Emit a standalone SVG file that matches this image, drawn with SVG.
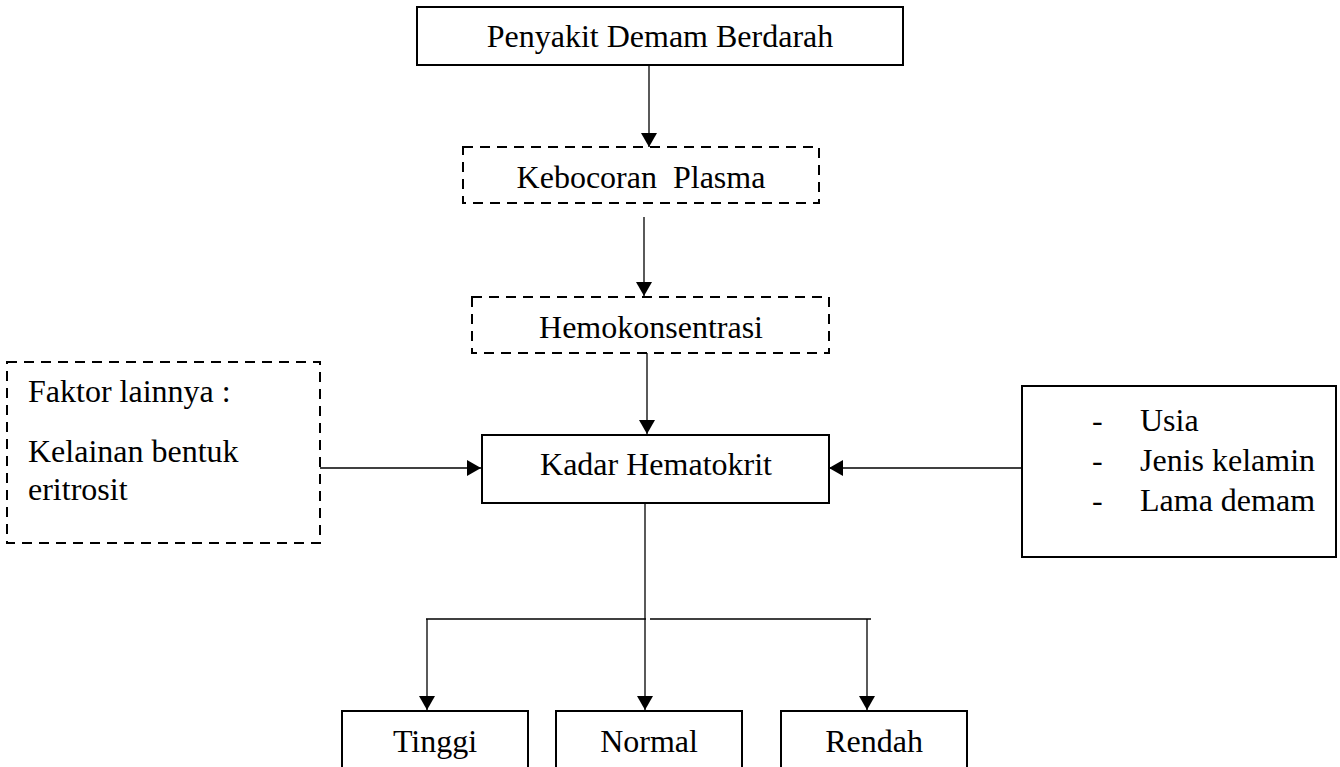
<svg xmlns="http://www.w3.org/2000/svg" width="1340" height="767" viewBox="0 0 1340 767">
<style>
.box{fill:#fff;stroke:#000;stroke-width:2}
.dash{fill:#fff;stroke:#000;stroke-width:2;stroke-dasharray:10 7}
.t{font-family:"Liberation Serif","Times New Roman",serif;font-size:32px;fill:#000}
.c{text-anchor:middle}
.ln{fill:none;stroke:#000;stroke-width:1.3}
</style>
<defs>
<marker id="ah" markerUnits="userSpaceOnUse" viewBox="0 0 14 16" markerWidth="14" markerHeight="16" refX="14" refY="8" orient="auto">
<path d="M0,0 L14,8 L0,16 z" fill="#000"/>
</marker>
</defs>
<rect width="1340" height="767" fill="#fff"/>
<g id="connectors">
<line class="ln" x1="649" y1="65" x2="649" y2="147" marker-end="url(#ah)"/>
<line class="ln" x1="644" y1="217" x2="644" y2="296" marker-end="url(#ah)"/>
<line class="ln" x1="647" y1="353" x2="647" y2="434" marker-end="url(#ah)"/>
<line class="ln" x1="320" y1="468" x2="481" y2="468" marker-end="url(#ah)"/>
<line class="ln" x1="1022" y1="468" x2="829" y2="468" marker-end="url(#ah)"/>
<line class="ln" x1="645" y1="503" x2="645" y2="710" marker-end="url(#ah)"/>
<line class="ln" x1="426" y1="619" x2="646" y2="619"/>
<line class="ln" x1="650" y1="619" x2="871" y2="619"/>
<line class="ln" x1="427" y1="619" x2="427" y2="710" marker-end="url(#ah)"/>
<line class="ln" x1="867" y1="619" x2="867" y2="710" marker-end="url(#ah)"/>
</g>
<g id="penyakit">
<rect class="box" x="417" y="7" width="486" height="58"/>
<text class="t c" x="660" y="47">Penyakit Demam Berdarah</text>
</g>
<g id="kebocoran">
<rect class="dash" x="463" y="147" width="356" height="56"/>
<text class="t c" x="641" y="188" xml:space="preserve">Kebocoran  Plasma</text>
</g>
<g id="hemokonsentrasi">
<rect class="dash" x="472" y="297" width="357" height="56"/>
<text class="t c" x="651" y="338">Hemokonsentrasi</text>
</g>
<g id="kadar">
<rect class="box" x="482" y="435" width="347" height="68"/>
<text class="t c" x="656" y="475">Kadar Hematokrit</text>
</g>
<g id="faktor">
<rect class="dash" x="7" y="362" width="313" height="181"/>
<text class="t" x="28" y="402">Faktor lainnya :</text>
<text class="t" x="28" y="462">Kelainan bentuk</text>
<text class="t" x="28" y="500">eritrosit</text>
</g>
<g id="karakteristik">
<rect class="box" x="1022" y="386" width="314" height="171"/>
<text class="t" x="1092" y="431">-</text>
<text class="t" x="1140" y="431">Usia</text>
<text class="t" x="1092" y="471">-</text>
<text class="t" x="1140" y="471">Jenis kelamin</text>
<text class="t" x="1092" y="511">-</text>
<text class="t" x="1140" y="511">Lama demam</text>
</g>
<g id="tinggi">
<rect class="box" x="342" y="711" width="186" height="70"/>
<text class="t c" x="435" y="752">Tinggi</text>
</g>
<g id="normal">
<rect class="box" x="556" y="711" width="186" height="70"/>
<text class="t c" x="649" y="752">Normal</text>
</g>
<g id="rendah">
<rect class="box" x="781" y="711" width="186" height="70"/>
<text class="t c" x="874" y="752">Rendah</text>
</g>
</svg>
